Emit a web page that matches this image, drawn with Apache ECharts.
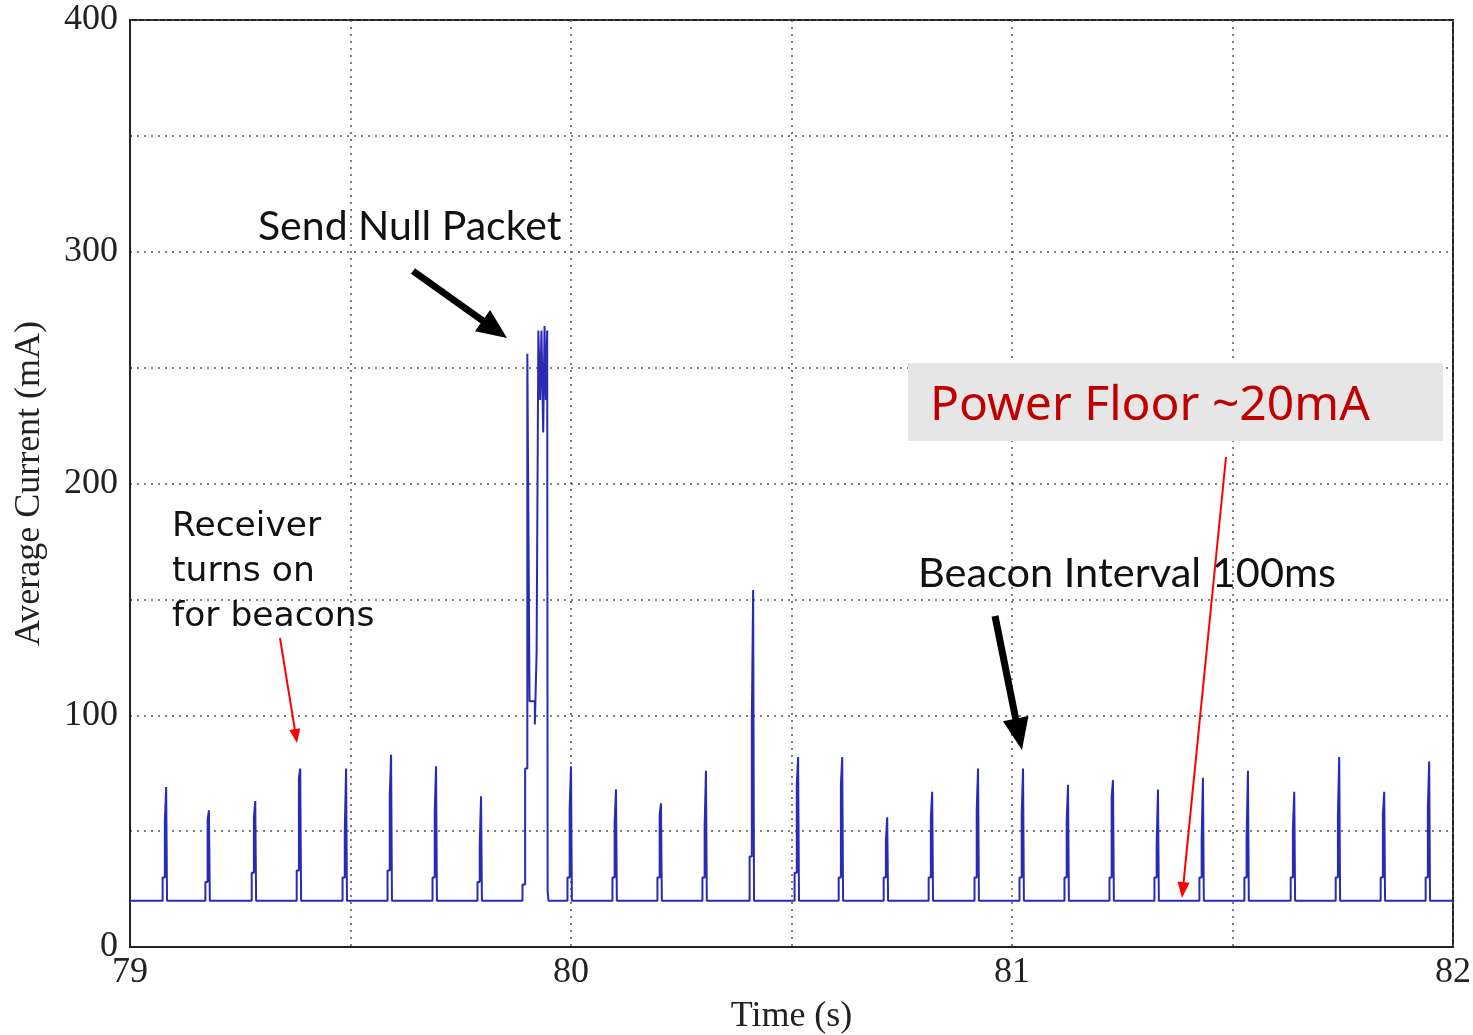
<!DOCTYPE html>
<html>
<head>
<meta charset="utf-8">
<script src="https://cdn.jsdelivr.net/npm/echarts@6/dist/echarts.min.js"></script>
<style>
  html, body {margin:0; padding:0; background:#fff;}
  #chart {width:1473px; height:1035px;}
</style>
</head>
<body>
<div id="chart"></div>
<script>
// baseline current between beacons (mA)
const floorCurrent = 20;

// beacon wake-ups: time of the peak (s), peak / shoulder / pre-step current (mA)
const beaconTimes = [79.084, 79.181, 79.286, 79.388, 79.492, 79.594, 79.696, 79.798,
    80.002, 80.104, 80.206, 80.308, 80.415, 80.517, 80.617, 80.719, 80.821, 80.925,
    81.027, 81.129, 81.231, 81.333, 81.435, 81.537, 81.642, 81.744, 81.846, 81.948];
const beaconPeaks = [69, 59, 63, 77, 77, 83, 78, 65,
    78, 68, 62, 76, 154, 82, 82, 56, 67, 77,
    77, 70, 72, 68, 73, 76, 67, 82, 67, 80];
const beaconMids = [54, 55, 56, 73, 50, 65, 58, 44,
    60, 54, 57, 52, 97, 70, 70, 46, 56, 59,
    57, 54, 65, 44, 46, 47, 51, 57, 57, 60];
const beaconSteps = [30, 28, 32, 33, 30, 33, 30, 28,
    30, 30, 30, 30, 39, 32, 30, 30, 30, 30,
    30, 30, 30, 30, 30, 30, 30, 30, 30, 30];

// null packet transmission burst
const burstTimes = [79.890, 79.890, 79.896, 79.896, 79.901, 79.901, 79.9035, 79.9035, 79.906, 79.906,
    79.918, 79.918, 79.922, 79.922, 79.926, 79.926, 79.930, 79.933, 79.937, 79.940, 79.943, 79.946, 79.947, 79.949];
const burstCurrents = [20, 27, 27, 77, 77, 256, 256, 180, 180, 106,
    106, 96, 96, 127, 127, 266, 236, 266, 222, 268, 236, 266, 24, 20];

const xRange = [79, 82];
const yRange = [0, 400];
const xLabelValues = [79, 80, 81, 82];
const yLabelValues = [0, 100, 200, 300, 400];

// build the trace
let segments = [];
beaconTimes.forEach((t, i) => {
    segments.push([
        [t - 0.010, floorCurrent], [t - 0.010, beaconSteps[i]],
        [t - 0.005, beaconSteps[i]], [t - 0.005, beaconMids[i]],
        [t - 0.002, beaconMids[i]], [t - 0.002, beaconPeaks[i]],
        [t, beaconPeaks[i]], [t, floorCurrent]
    ]);
});
segments.push(burstTimes.map((t, i) => [t, burstCurrents[i]]));
segments.sort((a, b) => a[0][0] - b[0][0]);
let trace = [[xRange[0], floorCurrent]];
segments.forEach(s => { trace = trace.concat(s); });
trace.push([xRange[1], floorCurrent]);

function arrow(x1, y1, x2, y2, color, w, hl, hw) {
    let dx = x2 - x1, dy = y2 - y1, L = Math.hypot(dx, dy);
    let ux = dx / L, uy = dy / L;
    let bx = x2 - ux * hl, by = y2 - uy * hl;
    return [
        {type:'line', z:100, shape:{x1:x1, y1:y1, x2:bx + ux * 2, y2:by + uy * 2}, style:{stroke:color, lineWidth:w}},
        {type:'polygon', z:100, shape:{points:[[x2, y2], [bx - uy * hw / 2, by + ux * hw / 2], [bx + uy * hw / 2, by - ux * hw / 2]]}, style:{fill:color}}
    ];
}
function label(text, x, y, font, color) {
    return {type:'text', z:100, style:{text:text, x:x, y:y, font:font, fill:color, textVerticalAlign:'middle'}};
}

const serif = '"Liberation Serif", "Times New Roman", serif';
const gridStyle = {show:true, lineStyle:{color:'#555', type:[2, 5], width:1.5}};

let graphics = [
    {type:'rect', z:90, shape:{x:908, y:363, width:535, height:78}, style:{fill:'#e6e6e6'}},
    label('Power Floor ~20mA', 930, 406, '48px "Noto Sans", sans-serif', '#c00000'),
    label('Send Null Packet', 258, 227, '41px Lato, sans-serif', '#111'),
    label('Beacon Interval 100ms', 918, 574, '41.5px Lato, sans-serif', '#111'),
    label('Receiver', 172, 527, '34.5px "DejaVu Sans", sans-serif', '#111'),
    label('turns on', 172, 572, '34.5px "DejaVu Sans", sans-serif', '#111'),
    label('for beacons', 172, 617, '34.5px "DejaVu Sans", sans-serif', '#111')
]
    .concat(arrow(413, 271, 507, 338, '#000', 7, 30, 26))
    .concat(arrow(995, 616, 1022, 750, '#000', 7, 32, 26))
    .concat(arrow(280, 638, 297, 743, '#ff0000', 2, 14, 11))
    .concat(arrow(1226, 457, 1182, 898, '#ff0000', 2, 16, 12));

let chart = echarts.init(document.getElementById('chart'));
chart.setOption({
    animation: false,
    backgroundColor: '#fff',
    grid: {left:130, top:20, right:20, bottom:88, show:true, borderColor:'#222', borderWidth:2,
        containLabel:false, outerBoundsMode:'none'},
    xAxis: {
        type: 'value', min: xRange[0], max: xRange[1], interval: 0.5,
        name: 'Time (s)', nameLocation: 'middle', nameGap: 52,
        nameTextStyle: {fontFamily: serif, fontSize: 36, color: '#222'},
        axisLine: {show:true, onZero:false, lineStyle:{color:'#222', width:2}},
        axisTick: {show:false},
        axisLabel: {
            fontFamily: serif, fontSize: 36, color: '#222', margin: 8,
            formatter: v => xLabelValues.indexOf(v) >= 0 ? String(v) : ''
        },
        splitLine: gridStyle
    },
    yAxis: {
        type: 'value', min: yRange[0], max: yRange[1], interval: 50,
        name: 'Average Current (mA)', nameLocation: 'middle', nameGap: 82,
        nameTextStyle: {fontFamily: serif, fontSize: 36, color: '#222'},
        axisLine: {show:true, lineStyle:{color:'#222', width:2}},
        axisTick: {show:false},
        axisLabel: {
            fontFamily: serif, fontSize: 36, color: '#222', margin: 12,
            formatter: v => yLabelValues.indexOf(v) >= 0 ? String(v) : ''
        },
        splitLine: gridStyle
    },
    series: [{
        type: 'line',
        data: trace,
        showSymbol: false,
        silent: true,
        lineStyle: {color:'#2a2ab4', width:2},
        z: 5
    }],
    graphic: graphics
});
</script>
</body>
</html>
